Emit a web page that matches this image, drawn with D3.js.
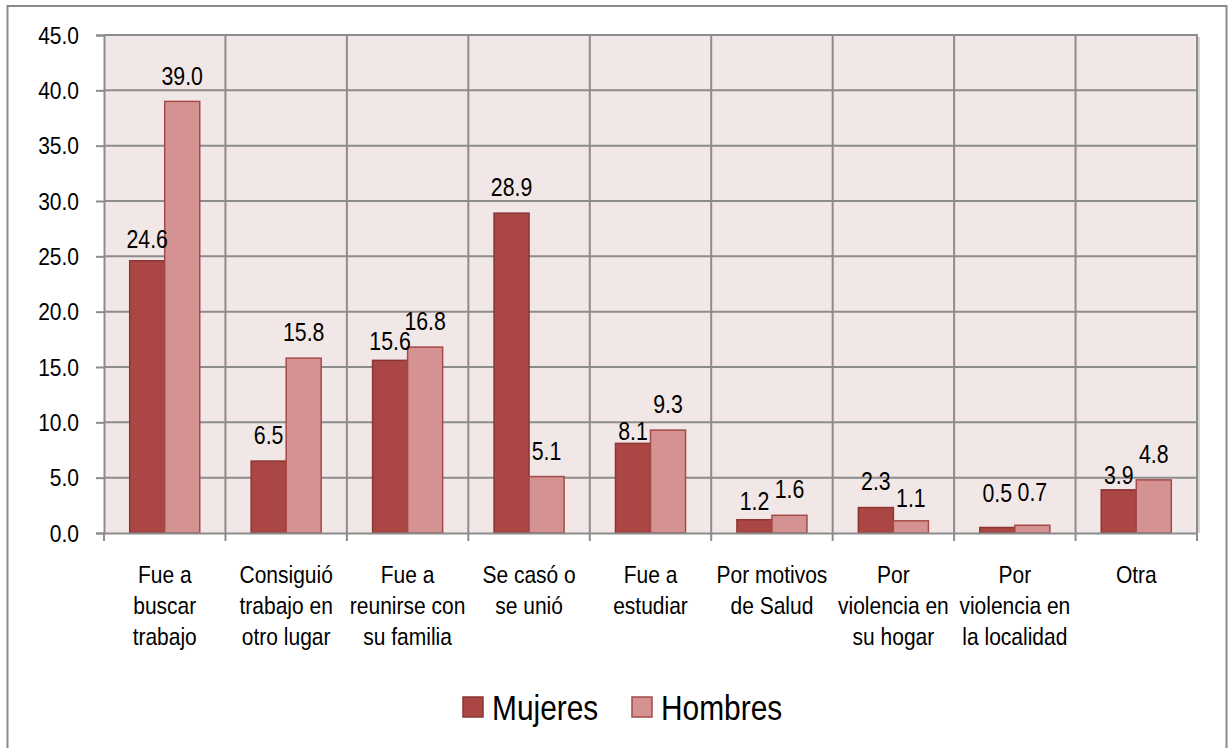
<!DOCTYPE html>
<html>
<head>
<meta charset="utf-8">
<script src="https://cdn.jsdelivr.net/npm/d3@7"></script>
<style>
  html, body { margin: 0; padding: 0; background: #fff; }
  svg { display: block; font-family: "Liberation Sans", Arial, sans-serif; }
</style>
</head>
<body>
<svg id="chart" width="1230" height="748"></svg>
<script>
const categories = [
  "Fue a\nbuscar\ntrabajo",
  "Consiguió\ntrabajo en\notro lugar",
  "Fue a\nreunirse con\nsu familia",
  "Se casó o\nse unió",
  "Fue a\nestudiar",
  "Por motivos\nde Salud",
  "Por\nviolencia en\nsu hogar",
  "Por\nviolencia en\nla localidad",
  "Otra"
];
const seriesNames = ["Mujeres", "Hombres"];
const mujeres = [24.6, 6.5, 15.6, 28.9, 8.1, 1.2, 2.3, 0.5, 3.9];
const hombres = [39.0, 15.8, 16.8, 5.1, 9.3, 1.6, 1.1, 0.7, 4.8];
const yTicks = [0, 5, 10, 15, 20, 25, 30, 35, 40, 45];
// label lift above bar top (px), as placed in the original
const liftMujeres = [13, 17, 10, 17, 3, 10, 18, 25, 6];
const liftHombres = [16, 17, 17, 17, 17, 17, 14, 24, 17];

const colors = { Mujeres: "#aa4644", Hombres: "#d49392" };
const strokes = { Mujeres: "#8c3634", Hombres: "#a44a48" };
const SX = 0.875;

const svg = d3.select("#chart");
const L = 104, R = 1197, T = 35, B = 533;

svg.append("rect").attr("x", 7.5).attr("y", 6).attr("width", 1219).attr("height", 780)
  .attr("fill", "#fff").attr("stroke", "#8a8a8a").attr("stroke-width", 2);

const x = d3.scaleBand().domain(categories).range([L, R]).paddingInner(0).paddingOuter(0);
const xs = d3.scaleBand().domain(seriesNames).range([0, x.bandwidth()]).paddingInner(0).paddingOuter(0.734);
const y = d3.scaleLinear().domain([0, 45]).range([B, T]);

svg.append("rect").attr("x", L).attr("y", T).attr("width", R - L).attr("height", B - T)
  .attr("fill", "#f2e7e7");
svg.append("line").attr("x1", R + 2).attr("x2", R + 2).attr("y1", T + 2).attr("y2", B)
  .attr("stroke", "#d4d4d4").attr("stroke-width", 2);

const gridColor = "#8c8c8c";
svg.append("g").selectAll("line").data(yTicks.filter(d => d > 0)).join("line")
  .attr("x1", L).attr("x2", R).attr("y1", d => y(d)).attr("y2", d => y(d))
  .attr("stroke", gridColor).attr("stroke-width", 2);
const bounds = categories.map(c => x(c)).concat([R]);
svg.append("g").selectAll("line").data(bounds.slice(1)).join("line")
  .attr("x1", d => d).attr("x2", d => d).attr("y1", T).attr("y2", B)
  .attr("stroke", gridColor).attr("stroke-width", 2);

// bars
const data = categories.map((c, i) => ({ c, i, Mujeres: mujeres[i], Hombres: hombres[i] }));
const lifts = { Mujeres: liftMujeres, Hombres: liftHombres };
const groups = svg.append("g").selectAll("g").data(data).join("g")
  .attr("transform", d => `translate(${x(d.c)},0)`);
groups.selectAll("rect").data(d => seriesNames.map(s => ({ s, v: d[s], i: d.i }))).join("rect")
  .attr("x", d => xs(d.s)).attr("width", xs.bandwidth())
  .attr("y", d => y(d.v)).attr("height", d => B - y(d.v))
  .attr("fill", d => colors[d.s]).attr("stroke", d => strokes[d.s]).attr("stroke-width", 1.5);
groups.selectAll("text").data(d => seriesNames.map(s => ({ s, v: d[s], i: d.i }))).join("text")
  .attr("transform", d => `translate(${xs(d.s) + xs.bandwidth() / 2},${y(d.v) - lifts[d.s][d.i]}) scale(0.82,1)`)
  .attr("text-anchor", "middle").attr("font-size", 26).attr("fill", "#000")
  .text(d => d.v.toFixed(1));

// y axis
const yAxis = d3.axisLeft(y).tickValues(yTicks).tickFormat(d3.format(".1f")).tickSize(8).tickPadding(0);
const ya = svg.append("g").attr("transform", `translate(${L},0)`).call(yAxis);
ya.select(".domain").attr("stroke", gridColor).attr("stroke-width", 2);
ya.selectAll(".tick line").attr("stroke", gridColor).attr("stroke-width", 2);
ya.selectAll(".tick text").attr("x", null).attr("dy", null)
  .attr("transform", `translate(-25,8) scale(${SX},1)`)
  .attr("font-size", 24).attr("fill", "#000")
  .attr("font-family", "'Liberation Sans', Arial, sans-serif");

// x axis
const xAxis = d3.axisBottom(x).tickSize(0).tickFormat("");
const xa = svg.append("g").attr("transform", `translate(0,${B})`).call(xAxis);
xa.select(".domain").attr("stroke", gridColor).attr("stroke-width", 2);
xa.selectAll(".tick").remove();
xa.selectAll("line.bt").data(bounds).join("line").attr("class", "bt")
  .attr("x1", d => d).attr("x2", d => d).attr("y1", 0).attr("y2", 8)
  .attr("stroke", gridColor).attr("stroke-width", 2);
svg.append("line").attr("x1", L).attr("x2", R + 1).attr("y1", T).attr("y2", T)
  .attr("stroke", gridColor).attr("stroke-width", 2);

// category labels
const catG = svg.append("g").selectAll("text").data(categories).join("text")
  .attr("transform", d => `translate(${x(d) + x.bandwidth() / 2},583) scale(${SX},1)`)
  .attr("text-anchor", "middle").attr("font-size", 24).attr("fill", "#000");
catG.selectAll("tspan").data(d => d.split("\n")).join("tspan")
  .attr("x", 0)
  .attr("dy", (d, i) => i === 0 ? 0 : 31)
  .text(d => d);

// legend
const legendX = [463, 632];
const lg = svg.append("g").selectAll("g").data(seriesNames).join("g")
  .attr("transform", (d, i) => `translate(${legendX[i]},697)`);
lg.append("rect").attr("width", 20).attr("height", 20)
  .attr("fill", d => colors[d]).attr("stroke", d => strokes[d]).attr("stroke-width", 1.5);
lg.append("text").attr("transform", "translate(29,23) scale(0.83,1)")
  .attr("font-size", 36).attr("fill", "#000")
  .text(d => d);
</script>
</body>
</html>
